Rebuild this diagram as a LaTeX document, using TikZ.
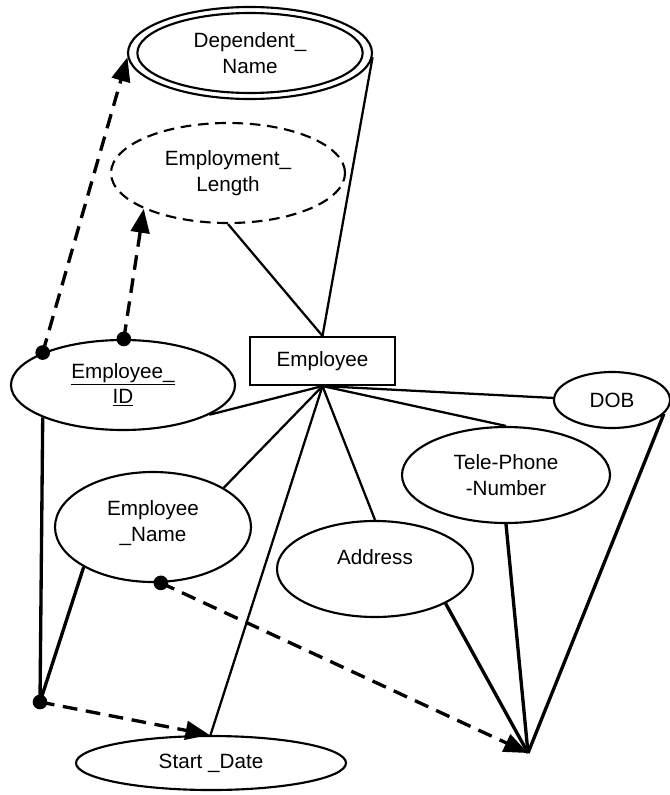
\documentclass[tikz,border=0pt]{standalone}
\usepackage{fontspec}
\setmainfont{Liberation Sans}
\usetikzlibrary{shapes.geometric,arrows.meta}
\tikzset{
  lbl/.style={font=\fontsize{15.5}{19}\selectfont, align=center},
  attr/.style={ellipse, draw, line width=1.6pt, inner sep=0pt, lbl},
  entity/.style={rectangle, draw, line width=1.6pt, inner sep=0pt, lbl},
  thinln/.style={line width=1.7pt},
  thickln/.style={line width=2.5pt},
  dashln/.style={line width=2.5pt, dash pattern=on 11pt off 6.5pt, -{Triangle[length=18pt,width=14pt]}},
  dotr/.style={fill=black}
}
\begin{document}
\begin{tikzpicture}[x=0.75pt,y=-0.75pt]
\useasboundingbox (0,0) rectangle (670,795);
% nodes
\node[attr, minimum width=183pt, minimum height=69pt] (dep) at (250,53) {};
\node[attr, minimum width=169pt, minimum height=60pt] (depin) at (250,53) {Dependent\_\\Name};
\node[attr, dash pattern=on 8pt off 5pt, minimum width=175.5pt, minimum height=75pt] (elen) at (228,173) {Employment\_\\Length};
\node[entity, minimum width=108.75pt, minimum height=36pt] (emp) at (322.5,361) {Employee};
\node[attr, minimum width=168pt, minimum height=67.5pt] (eid) at (123,385) {\underline{Employee\_}\\\underline{ID}};
\node[attr, minimum width=87pt, minimum height=42pt] (dob) at (612,400) {DOB};
\node[attr, minimum width=156pt, minimum height=72pt] (tel) at (506,475) {Tele-Phone\\-Number};
\node[attr, minimum width=147pt, minimum height=82.5pt] (ename) at (153,527) {Employee\\\_Name\\[-10pt]\mbox{}};
\node[attr, minimum width=147pt, minimum height=72pt] (addr) at (375,569) {\raisebox{18pt}{Address}};
\node[attr, minimum width=202.5pt, minimum height=40.5pt] (sd) at (211,763) {Start \_Date};
% junction points
\coordinate (j1) at (40,702);
\coordinate (j2) at (528,753);
\coordinate (eidA) at (eid.158);
\coordinate (eidB) at (eid.89);
\coordinate (enameD) at (ename.-82);
% thin connectors from the entity
\draw[thinln] (emp.south) -- (eid.-19);
\draw[thinln] (emp.south) -- (dob.178);
\draw[thinln] (emp.south) -- (tel.90);
\draw[thinln] (emp.south) -- (ename.29);
\draw[thinln] (emp.south) -- (addr.90);
\draw[thinln] (emp.south) -- (sd.91);
\draw[thinln] (emp.north) -- (elen.270);
\draw[thinln] (emp.north) -- (dep.-2);
% thick connectors
\draw[thickln] (eid.202) -- (j1);
\draw[thickln] (ename.210) -- (j1);
\draw[thickln] (addr.-26) -- (j2);
\draw[thickln] (tel.270) -- (j2);
\draw[thickln] (dob.-15) -- (j2);
% dashed arrows
\draw[dashln] (eidA) -- (dep.182);
\draw[dashln] (eidB) -- (elen.203);
\draw[dashln] (j1) -- (sd.93);
\draw[dashln] (enameD) -- (j2);
% dots
\fill[dotr] (eidA) circle (5.5pt);
\fill[dotr] (eidB) circle (5.5pt);
\fill[dotr] (enameD) circle (5.5pt);
\fill[dotr] (j1) circle (5.5pt);
\end{tikzpicture}
\end{document}
